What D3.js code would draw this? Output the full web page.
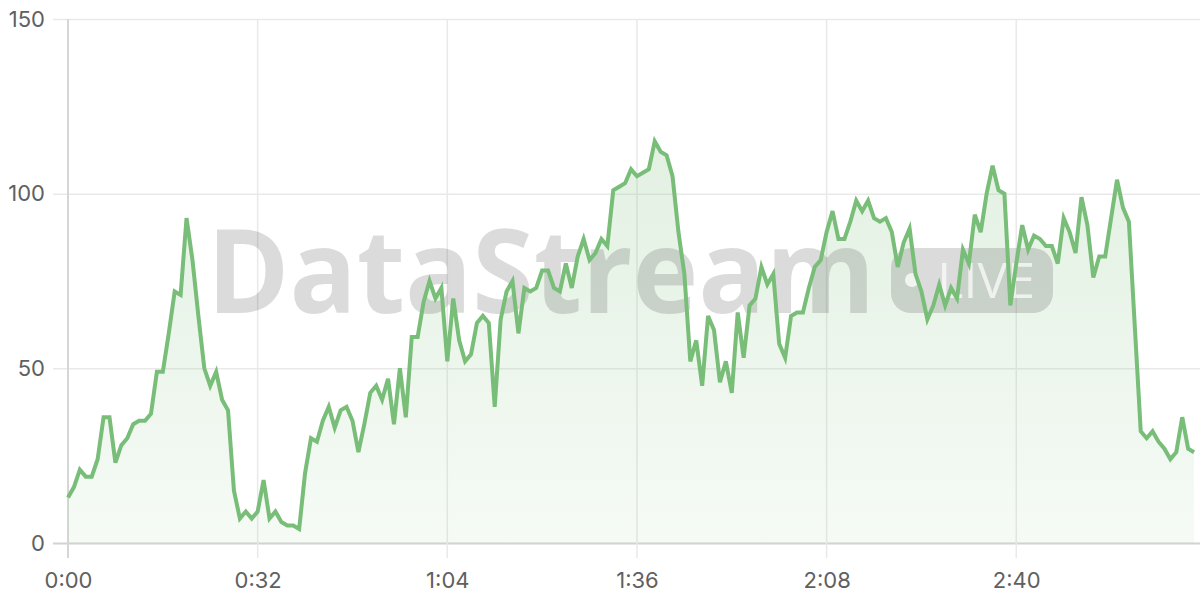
<!DOCTYPE html>
<html>
<head>
<meta charset="utf-8">
<script src="https://cdn.jsdelivr.net/npm/d3@7"></script>
<style>
  html, body { margin: 0; padding: 0; background: #ffffff; }
  svg { display: block; }
</style>
</head>
<body>
<svg id="chart" width="1200" height="600"></svg>
<script>
// seconds from start (one sample per second)
const seconds = d3.range(0, 191);
const values = [
  13,16,21,19,19,24,36,36,23,28,
  30,34,35,35,37,49,49,60,72,71,
  93,81,65,50,45,49,41,38,15,7,
  9,7,9,18,7,9,6,5,5,4,
  20,30,29,35,39,33,38,39,35,26,
  34,43,45,41,47,34,50,36,59,59,
  69,75,70,73,52,70,58,52,54,63,
  65,63,39,64,72,75,60,73,72,73,
  78,78,73,72,80,73,82,87,81,83,
  87,85,101,102,103,107,105,106,107,115,
  112,111,105,89,77,52,58,45,65,61,
  46,52,43,66,53,68,70,79,74,77,
  57,53,65,66,66,73,79,81,89,95,
  87,87,92,98,95,98,93,92,93,89,
  79,86,90,77,72,64,68,74,68,73,
  70,84,80,94,89,100,108,101,100,68,
  80,91,84,88,87,85,85,80,93,89,
  83,99,91,76,82,82,93,104,96,92,
  62,32,30,32,29,27,24,26,36,27,26
];
const xTicks = [0, 32, 64, 96, 128, 160];
const yTicks = [0, 50, 100, 150];
const watermarkText = "DataStream";
const badgeText = "LIVE";

(function () {
const data = seconds.map((s, i) => ({ s, v: values[i] }));

const svg = d3.select("#chart");
const pLeft = 68, pRight = 1200, pTop = 19, pBottom = 543;

const x = d3.scaleLinear().domain([0, 191]).range([pLeft, pRight]);
const y = d3.scaleLinear().domain([0, 150]).range([pBottom, pTop]);

const fmt = s => `${Math.floor(s / 60)}:${String(s % 60).padStart(2, "0")}`;
const labelFont = "Inter, 'Noto Sans', sans-serif";

// gradient
const defs = svg.append("defs");
const grad = defs.append("linearGradient")
  .attr("id", "areaGrad")
  .attr("gradientUnits", "userSpaceOnUse")
  .attr("x1", 0).attr("x2", 0).attr("y1", pTop).attr("y2", pBottom);
grad.append("stop").attr("offset", "0%").attr("stop-color", "#79bd79").attr("stop-opacity", 0.26);
grad.append("stop").attr("offset", "100%").attr("stop-color", "#79bd79").attr("stop-opacity", 0.07);

// y axis labels
const gy = svg.append("g").attr("transform", `translate(${pLeft - 15},0)`);
gy.call(d3.axisLeft(y).tickValues(yTicks).tickSize(0).tickFormat(d3.format("d")));
gy.select(".domain").remove();
gy.selectAll(".tick line").remove();
gy.selectAll(".tick text")
  .attr("x", -8)
  .attr("font-family", labelFont)
  .attr("font-size", 22)
  .attr("fill", "#606060");

const gridY = svg.append("g");
gridY.selectAll("line").data(yTicks).join("line")
  .attr("x1", pLeft - 15).attr("x2", pRight)
  .attr("y1", d => y(d) + 0.5).attr("y2", d => y(d) + 0.5)
  .attr("stroke", d => d === 0 ? "#d2d2d2" : "#e9e9e9")
  .attr("stroke-width", d => d === 0 ? 2 : 1.5);

// x axis labels
const gx = svg.append("g").attr("transform", `translate(0,${pBottom + 15})`);
gx.call(d3.axisBottom(x).tickValues(xTicks).tickSize(0).tickFormat(fmt));
gx.select(".domain").remove();
gx.selectAll(".tick text")
  .attr("y", 14)
  .attr("dy", "0.71em")
  .attr("font-family", labelFont)
  .attr("font-size", 22)
  .attr("fill", "#606060");

const gridX = svg.append("g");
gridX.selectAll("line").data(xTicks).join("line")
  .attr("x1", d => x(d)).attr("x2", d => x(d))
  .attr("y1", pTop).attr("y2", pBottom + 15)
  .attr("stroke", d => d === 0 ? "#d6d6d6" : "#e9e9e9")
  .attr("stroke-width", d => d === 0 ? 2 : 1.5);

// area
const area = d3.area().x(d => x(d.s)).y0(y(0)).y1(d => y(d.v));
svg.append("path").datum(data)
  .attr("d", area)
  .attr("fill", "url(#areaGrad)");

// watermark
const wm = svg.append("g").attr("pointer-events", "none");
wm.append("text")
  .attr("x", 207).attr("y", 313)
  .attr("font-family", "'Open Sans', 'DejaVu Sans', sans-serif")
  .attr("font-weight", 700)
  .attr("font-size", 117)
  .attr("textLength", 668)
  .attr("lengthAdjust", "spacingAndGlyphs")
  .attr("fill", "rgba(0,0,0,0.14)")
  .text(watermarkText);
wm.append("rect")
  .attr("x", 891).attr("y", 248).attr("width", 162).attr("height", 65)
  .attr("rx", 20)
  .attr("fill", "rgba(0,0,0,0.14)");
wm.append("circle")
  .attr("cx", 912).attr("cy", 280).attr("r", 7)
  .attr("fill", "rgba(255,255,255,0.75)");
wm.append("text")
  .attr("x", 1035).attr("y", 298)
  .attr("text-anchor", "end")
  .attr("font-family", "'Open Sans', 'DejaVu Sans', sans-serif")
  .attr("font-weight", 400)
  .attr("font-size", 50)
  .attr("fill", "rgba(255,255,255,0.7)")
  .text(badgeText);

// line
const line = d3.line().x(d => x(d.s)).y(d => y(d.v));
svg.append("path").datum(data)
  .attr("d", line)
  .attr("fill", "none")
  .attr("stroke", "#78bd78")
  .attr("stroke-width", 4)
  .attr("stroke-linejoin", "miter");
})();
</script>
</body>
</html>
